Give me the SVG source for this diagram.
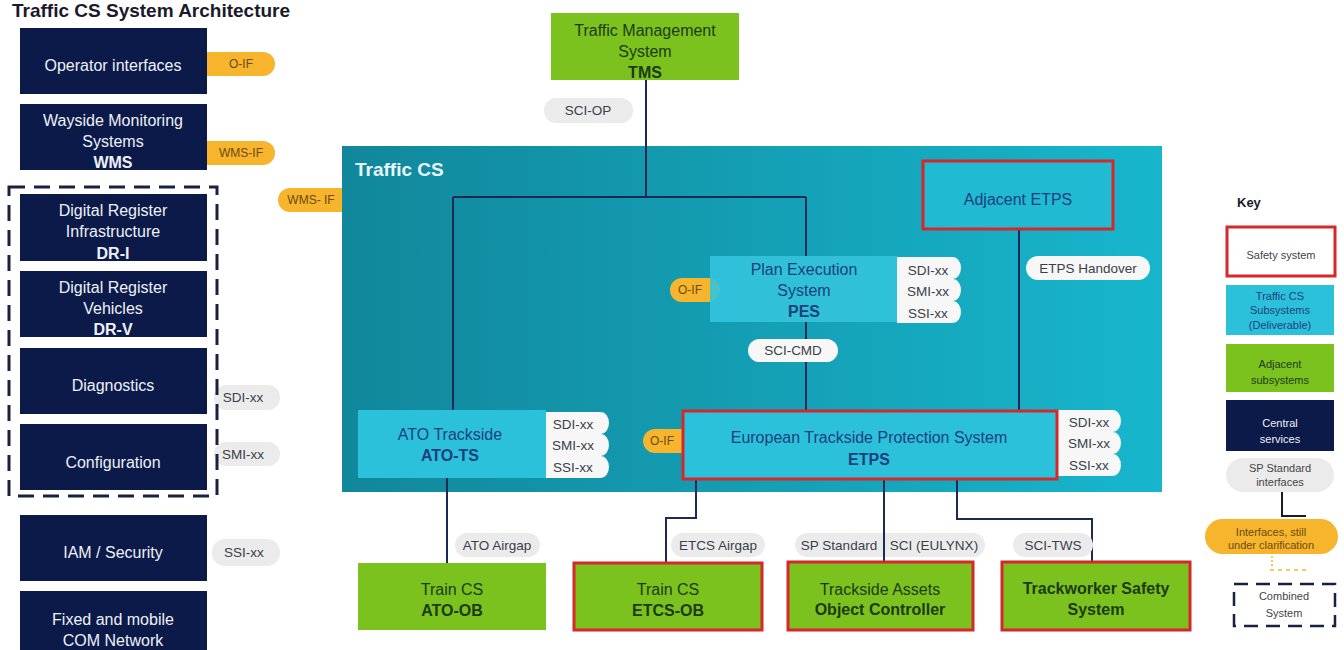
<svg xmlns="http://www.w3.org/2000/svg" width="1344" height="650" viewBox="0 0 1344 650">
<defs>
  <linearGradient id="tcsGrad" x1="0" y1="0" x2="1" y2="0">
    <stop offset="0" stop-color="#11879b"/>
    <stop offset="1" stop-color="#17b6cd"/>
  </linearGradient>
  <path id="stack" d="M0,0 H56 A8,11 0 0 1 56,22 A8,11 0 0 1 56,44 A8,11 0 0 1 56,66 H0 Z"/>
</defs>
<style>
  text { font-family: "Liberation Sans", Arial, sans-serif; }
  .navy { fill: #0b1a48; }
  .nt { fill: #eef1f8; font-size: 16px; text-anchor: middle; }
  .b { font-weight: bold; }
  .green { fill: #7cc21e; }
  .gt { fill: #1d3a15; font-size: 16px; text-anchor: middle; }
  .cyan { fill: #2cc1da; }
  .ct { fill: #1d3f7c; font-size: 16px; text-anchor: middle; }
  .red { stroke: #d6282b; stroke-width: 3; }
  .orange { fill: #f6b52d; }
  .grey { fill: #ebebeb; }
  .white { fill: #f7f7f7; }
  .pt { fill: #3a3f4a; font-size: 13.5px; text-anchor: middle; }
  .ot { fill: #6b4a12; font-size: 12px; text-anchor: middle; }
  .line { stroke: #1e2a55; stroke-width: 2; fill: none; }
  .kt { fill: #444; font-size: 11px; text-anchor: middle; }
  .kt-blue { fill: #1d3f7c; font-size: 11px; text-anchor: middle; }
  .kt-green { fill: #1d3a15; font-size: 11px; text-anchor: middle; }
  .kt-white { fill: #eef1f8; font-size: 11px; text-anchor: middle; }
  .kt-orange { fill: #6b4a12; font-size: 11px; text-anchor: middle; }
</style>

<text x="12" y="17" font-size="19" font-weight="bold" fill="#1a1a2a">Traffic CS System Architecture</text>

<!-- Traffic CS container -->
<g id="traffic-cs">
  <rect x="342" y="146" width="820" height="346" fill="url(#tcsGrad)"/>
  <text x="355" y="176" font-size="19" font-weight="bold" fill="#e8f6fa">Traffic CS</text>
</g>

<!-- label under connector -->
<g id="label-sp-standard">
  <rect x="795" y="533" width="190" height="24" rx="12" class="grey"/>
  <text x="839" y="550" class="pt">SP Standard</text>
  <text x="934" y="550" class="pt">SCI (EULYNX)</text>
</g>

<g id="connectors">
  <path class="line" d="M646,80 V197"/>
  <path class="line" d="M453,197 H806"/>
  <path class="line" d="M453,197 V410"/>
  <path class="line" d="M806,197 V256"/>
  <path class="line" d="M806,322 V410"/>
  <path class="line" d="M1019,229 V410"/>
  <path class="line" d="M447,478 V563"/>
  <path class="line" d="M696,479 V518 H666 V563"/>
  <path class="line" d="M884,479 V562"/>
  <path class="line" d="M957,479 V519 H1092 V562"/>
</g>

<g id="labels">
  <rect x="195" y="52" width="80" height="24" rx="12" class="orange"/>
  <text x="241" y="68" class="ot">O-IF</text>
  <rect x="195" y="141" width="80" height="24" rx="12" class="orange"/>
  <text x="241" y="157" class="ot">WMS-IF</text>
  <path d="M342,188 H290 A12,12 0 0 0 290,212 H342 Z" class="orange"/>
  <text x="311" y="204" class="ot">WMS- IF</text>
  <rect x="214" y="385" width="66" height="25" rx="12" class="grey"/>
  <text x="243" y="402" class="pt">SDI-xx</text>
  <rect x="214" y="442" width="66" height="24" rx="12" class="grey"/>
  <text x="243" y="459" class="pt">SMI-xx</text>
  <rect x="212" y="539" width="68" height="27" rx="13" class="grey"/>
  <text x="244" y="557" class="pt">SSI-xx</text>
  <rect x="544" y="98" width="89" height="25" rx="12" class="grey"/>
  <text x="588" y="115" class="pt">SCI-OP</text>
  <rect x="670" y="278" width="50" height="24" rx="12" class="orange"/>
  <text x="690" y="294" class="ot">O-IF</text>
  <use href="#stack" x="897" y="257" class="white"/>
  <text x="928" y="275" class="pt">SDI-xx</text>
  <text x="928" y="296" class="pt">SMI-xx</text>
  <text x="928" y="318" class="pt">SSI-xx</text>
  <rect x="748" y="339" width="90" height="23" rx="11.5" class="white"/>
  <text x="793" y="355" class="pt">SCI-CMD</text>
  <rect x="1026" y="256" width="124" height="24" rx="12" class="white"/>
  <text x="1088" y="273" class="pt">ETPS Handover</text>
  <use href="#stack" x="545" y="412" class="white"/>
  <text x="573" y="429" class="pt">SDI-xx</text>
  <text x="573" y="450" class="pt">SMI-xx</text>
  <text x="573" y="472" class="pt">SSI-xx</text>
  <rect x="643" y="429" width="50" height="24" rx="12" class="orange"/>
  <text x="662" y="445" class="ot">O-IF</text>
  <use href="#stack" x="1057" y="410" class="white"/>
  <text x="1089" y="427" class="pt">SDI-xx</text>
  <text x="1089" y="448" class="pt">SMI-xx</text>
  <text x="1089" y="470" class="pt">SSI-xx</text>
  <rect x="455" y="533" width="85" height="24" rx="12" class="grey"/>
  <text x="497" y="550" class="pt">ATO Airgap</text>
  <rect x="671" y="533" width="94" height="24" rx="12" class="grey"/>
  <text x="718" y="550" class="pt">ETCS Airgap</text>
  <rect x="1013" y="533" width="80" height="24" rx="12" class="grey"/>
  <text x="1053" y="550" class="pt">SCI-TWS</text>
</g>

<!-- Left column central services -->
<g id="operator-interfaces">
  <rect x="20" y="28" width="187" height="66" class="navy"/>
  <text x="113" y="71" class="nt">Operator interfaces</text>
</g>
<g id="wms">
  <rect x="20" y="104" width="187" height="66" class="navy"/>
  <text x="113" y="126" class="nt">Wayside Monitoring</text>
  <text x="113" y="147" class="nt">Systems</text>
  <text x="113" y="168" class="nt b">WMS</text>
</g>
<g id="combined-system">
  <rect x="9" y="187" width="208" height="309" fill="none" stroke="#1a2040" stroke-width="3" stroke-dasharray="16,9"/>
</g>
<g id="dr-i">
  <rect x="20" y="194" width="187" height="67" class="navy"/>
  <text x="113" y="216" class="nt">Digital Register</text>
  <text x="113" y="237" class="nt">Infrastructure</text>
  <text x="113" y="259" class="nt b">DR-I</text>
</g>
<g id="dr-v">
  <rect x="20" y="271" width="187" height="66" class="navy"/>
  <text x="113" y="293" class="nt">Digital Register</text>
  <text x="113" y="314" class="nt">Vehicles</text>
  <text x="113" y="335" class="nt b">DR-V</text>
</g>
<g id="diagnostics">
  <rect x="20" y="348" width="187" height="66" class="navy"/>
  <text x="113" y="391" class="nt">Diagnostics</text>
</g>
<g id="configuration">
  <rect x="20" y="424" width="187" height="66" class="navy"/>
  <text x="113" y="468" class="nt">Configuration</text>
</g>
<g id="iam-security">
  <rect x="20" y="515" width="187" height="66" class="navy"/>
  <text x="113" y="558" class="nt">IAM / Security</text>
</g>
<g id="com-network">
  <rect x="20" y="591" width="187" height="66" class="navy"/>
  <text x="113" y="625" class="nt">Fixed and mobile</text>
  <text x="113" y="646" class="nt">COM Network</text>
</g>

<!-- TMS -->
<g id="tms">
  <rect x="551" y="13" width="188" height="67" class="green"/>
  <text x="645" y="36" class="gt">Traffic Management</text>
  <text x="645" y="57" class="gt">System</text>
  <text x="645" y="78" class="gt b">TMS</text>
</g>

<!-- Traffic CS subsystems -->
<g id="pes">
  <rect x="710" y="256" width="187" height="66" fill="#33c4dd" opacity="0.9"/>
  <text x="804" y="275" class="ct">Plan Execution</text>
  <text x="804" y="296" class="ct">System</text>
  <text x="804" y="317" class="ct b">PES</text>
</g>
<g id="adjacent-etps">
  <rect x="923" y="161" width="190" height="68" fill="#20bad3" class="red"/>
  <text x="1018" y="205" class="ct">Adjacent ETPS</text>
</g>
<g id="ato-ts">
  <rect x="358" y="410" width="188" height="68" class="cyan"/>
  <text x="450" y="440" class="ct">ATO Trackside</text>
  <text x="450" y="461" class="ct b">ATO-TS</text>
</g>
<g id="etps">
  <rect x="683" y="411" width="374" height="68" class="cyan red"/>
  <text x="869" y="443" class="ct">European Trackside Protection System</text>
  <text x="869" y="465" class="ct b">ETPS</text>
</g>

<!-- Bottom adjacent subsystems -->
<g id="ato-ob">
  <rect x="358" y="563" width="188" height="67" class="green"/>
  <text x="452" y="595" class="gt">Train CS</text>
  <text x="452" y="616" class="gt b">ATO-OB</text>
</g>
<g id="etcs-ob">
  <rect x="574" y="563" width="188" height="67" class="green red"/>
  <text x="668" y="595" class="gt">Train CS</text>
  <text x="668" y="616" class="gt b">ETCS-OB</text>
</g>
<g id="object-controller">
  <rect x="788" y="562" width="185" height="68" class="green red"/>
  <text x="880" y="595" class="gt">Trackside Assets</text>
  <text x="880" y="615" class="gt b">Object Controller</text>
</g>
<g id="trackworker-safety">
  <rect x="1002" y="562" width="188" height="68" class="green red"/>
  <text x="1096" y="594" class="gt b">Trackworker Safety</text>
  <text x="1096" y="615" class="gt b">System</text>
</g>

<!-- Key -->
<g id="key">
  <text x="1237" y="207" font-size="13" font-weight="bold" fill="#1a1a2a">Key</text>
  <rect x="1227" y="227" width="108" height="49" fill="#ffffff" class="red"/>
  <text x="1281" y="259" class="kt">Safety system</text>
  <rect x="1226" y="285" width="108" height="50" class="cyan"/>
  <text x="1280" y="300" class="kt-blue">Traffic CS</text>
  <text x="1280" y="314" class="kt-blue">Subsystems</text>
  <text x="1280" y="329" class="kt-blue">(Deliverable)</text>
  <rect x="1226" y="344" width="108" height="48" class="green"/>
  <text x="1280" y="368" class="kt-green">Adjacent</text>
  <text x="1280" y="384" class="kt-green">subsystems</text>
  <rect x="1226" y="400" width="108" height="51" class="navy"/>
  <text x="1280" y="427" class="kt-white">Central</text>
  <text x="1280" y="443" class="kt-white">services</text>
  <rect x="1226" y="458" width="108" height="34" rx="17" class="grey"/>
  <text x="1280" y="472" class="kt">SP Standard</text>
  <text x="1280" y="486" class="kt">interfaces</text>
  <path d="M1282,492 V516 H1306" fill="none" stroke="#1a1a2a" stroke-width="2"/>
  <rect x="1205" y="519" width="133" height="35" rx="17.5" class="orange"/>
  <text x="1271" y="536" class="kt-orange">Interfaces, still</text>
  <text x="1271" y="549" class="kt-orange">under clarification</text>
  <path d="M1272,556 V566" stroke="#f6b52d" stroke-width="1.5" stroke-dasharray="2,2"/>
  <path d="M1270,570 H1310" stroke="#f6b52d" stroke-width="1.5" stroke-dasharray="4,4"/>
  <rect x="1234" y="584" width="101" height="42" fill="none" stroke="#1a2040" stroke-width="2.5" stroke-dasharray="14,8"/>
  <text x="1284" y="600" class="kt">Combined</text>
  <text x="1284" y="617" class="kt">System</text>
</g>
</svg>
